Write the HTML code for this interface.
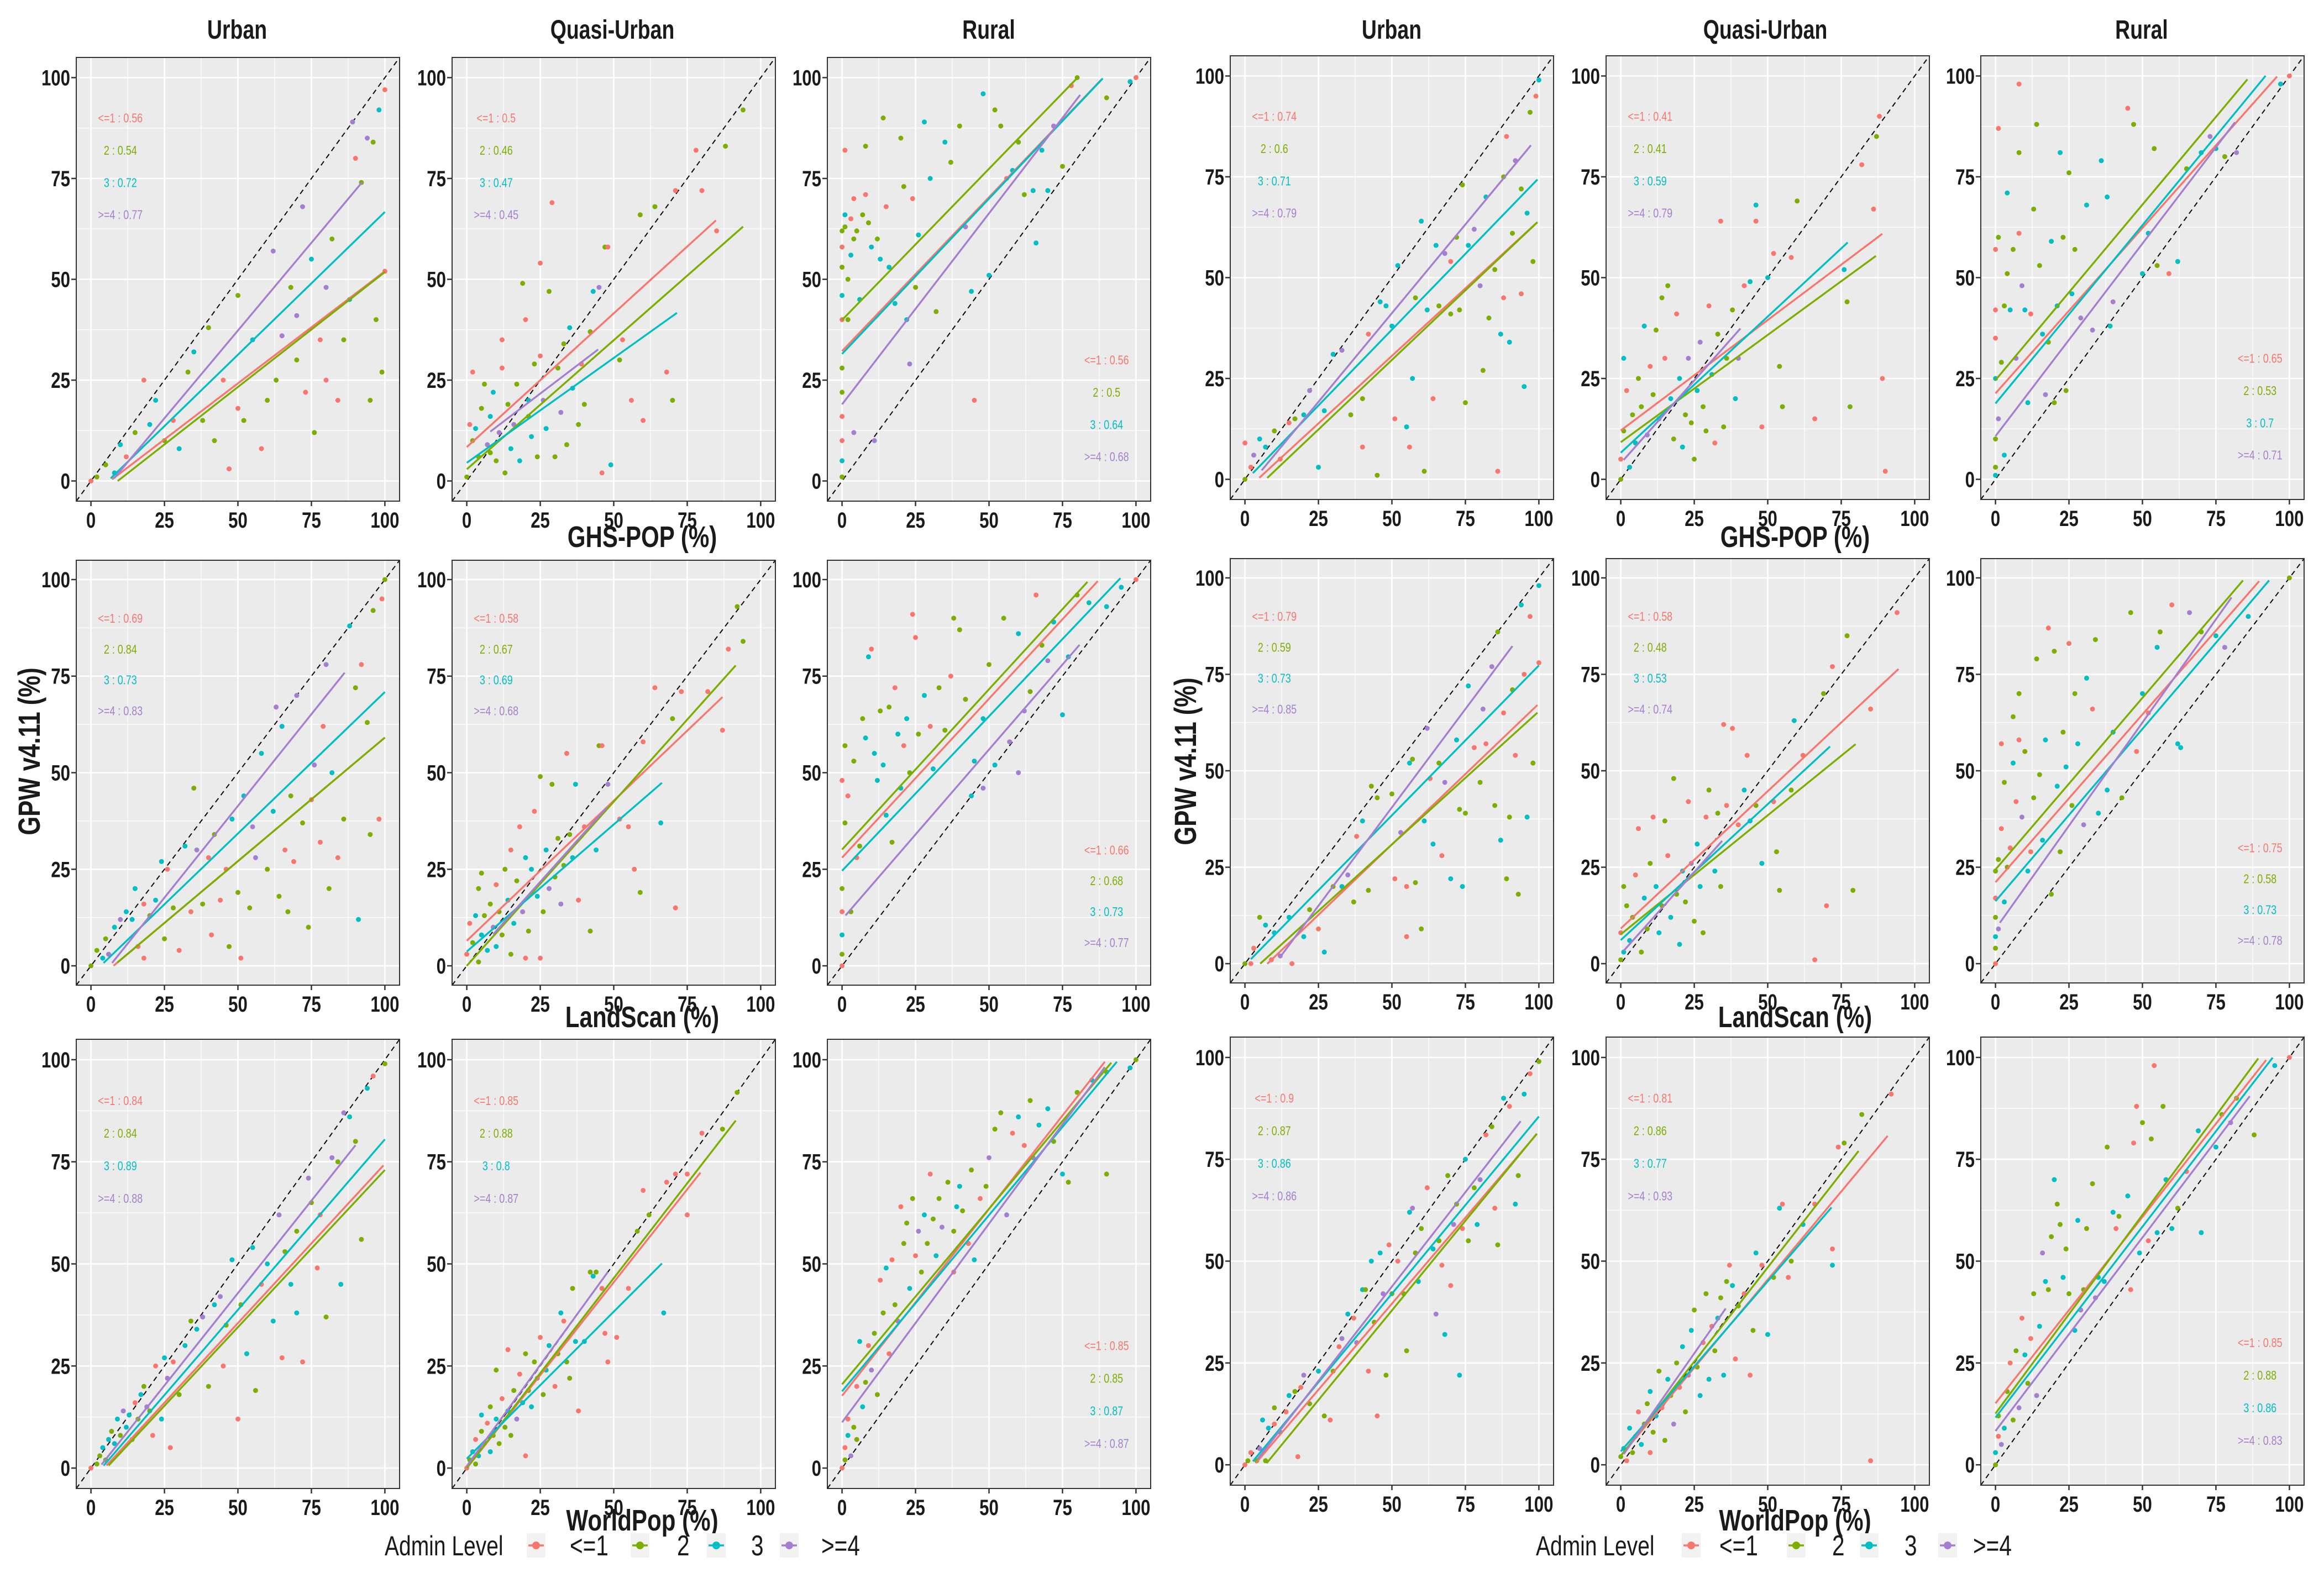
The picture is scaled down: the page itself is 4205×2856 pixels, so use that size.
<!DOCTYPE html>
<html><head><meta charset="utf-8">
<style>
html,body{margin:0;padding:0;background:#fff;}
svg{display:block;}
text{font-family:"Liberation Sans Narrow","Liberation Sans",sans-serif;}
</style></head>
<body>
<svg id="chart" width="4205" height="2856" viewBox="0 0 4205 2856" xmlns="http://www.w3.org/2000/svg">
<rect x="0" y="0" width="4205" height="2856" fill="#ffffff"/>
</svg>
<script>
const levelLabels = ["<=1","2","3",">=4"];
const levelColors = ["#F8766D","#7CAE00","#00BFC4","#A47FD0"];
const columnTitles = ["Urban","Quasi-Urban","Rural","Urban","Quasi-Urban","Rural"];
const rowTitles = ["GHS-POP (%)","LandScan (%)","WorldPop (%)"];
const tickValues = [0,25,50,75,100];
const tickLabels = ["0","25","50","75","100"];
const rValues = [
 [0.56,0.54,0.72,0.77],[0.5,0.46,0.47,0.45],[0.56,0.5,0.64,0.68],
 [0.69,0.84,0.73,0.83],[0.58,0.67,0.69,0.68],[0.66,0.68,0.73,0.77],
 [0.84,0.84,0.89,0.88],[0.85,0.88,0.8,0.87],[0.85,0.85,0.87,0.87],
 [0.74,0.6,0.71,0.79],[0.41,0.41,0.59,0.79],[0.65,0.53,0.7,0.71],
 [0.79,0.59,0.73,0.85],[0.58,0.48,0.53,0.74],[0.75,0.58,0.73,0.78],
 [0.9,0.87,0.86,0.86],[0.81,0.86,0.77,0.93],[0.85,0.88,0.86,0.83]
];
const lineIntercepts = [
 [-3.6,-5.2,-4.1,-6.2],[8.4,2.9,4.5,7.8],[32.2,39.9,31.5,19],
 [-4.9,-4.9,-2.4,-6.1],[6.5,0,3.7,0.5],[28,30.1,24.6,12],
 [-3.5,-4,-3,-2.4],[0,0,2.3,0.5],[17.7,20.5,18.8,11.2],
 [-2.9,-4.9,-0.5,-2.8],[12.1,9.2,6.6,4],[21.3,24.6,18.8,10.7],
 [-5.6,-3.6,-0.4,-10.5],[9.1,7.6,6.1,2.5],[21.1,24.4,16.2,9],
 [-2.7,-6.1,-1.5,-2.6],[2.2,2.2,3.3,1.6],[15.1,12.6,11.6,8.3]
];
const lineSlopes = [
 [0.556,0.57,0.708,0.87],[0.663,0.64,0.52,0.555],[0.763,0.75,0.77,0.947],
 [0.64,0.64,0.733,0.95],[0.725,0.85,0.658,0.85],[0.823,0.83,0.8,0.88],
 [0.78,0.77,0.835,0.905],[0.91,0.93,0.72,0.99],[0.915,0.86,0.863,0.973],
 [0.67,0.69,0.752,0.88],[0.548,0.532,0.675,0.82],[0.82,0.87,0.884,0.955],
 [0.73,0.69,0.777,1.02],[0.712,0.617,0.705,0.85],[0.87,0.89,0.893,1.07],
 [0.845,0.88,0.87,0.927],[0.865,0.925,0.835,1.03],[0.915,0.975,0.937,0.95]
];
const lineXmin = [
 [7.2,9.1,6.7,7.9],[0,0,0,8],[0,0,0,0],
 [7.7,9,4.3,7.2],[0,0,0,9],[0,0,0,1.2],
 [5.3,6,4.3,3.6],[0,0,0,0],[0,0,0,0],
 [4.9,7.6,2.7,5.7],[0,0,0,1],[0,0,0,0],
 [7.6,5.2,2,11.8],[0,0,0,1],[0,0,0,1.5],
 [3.7,7.4,2.7,4.4],[0,0,0,1],[0,0,0,0]
];
const lineXmax = [
 [100,100,100,92.3],[84.8,94,71.5,44.7],[88.2,79.6,88.7,81],
 [100,100,100,86.3],[87,91.5,66.4,47.6],[87,83.5,94.7,80.8],
 [99.5,100,100,90],[79.5,91.5,66.4,48],[89.4,91.6,93.5,89.4],
 [99.5,99.5,99.5,97.3],[89,86.8,77.2,40.7],[95.8,85.7,91.9,81.5],
 [99.5,99.5,100,91],[94.5,79.9,71.2,34.5],[89.7,84.2,93.1,80.3],
 [99.3,99.3,100,93.8],[90.8,80.9,71.7,35.7],[92.1,89.4,94.3,86.5]
];
const points = [
 [[0,0,0],[2,1,1],[5,4,1],[8,2,2],[10,9,2],[12,6,0],[15,12,1],[18,25,0],[20,14,2],[22,20,2],[25,10,1],[28,15,0],[30,8,2],[33,27,1],[35,32,2],[38,15,1],[40,38,1],[42,10,1],[45,25,0],[47,3,0],[50,46,1],[50,18,0],[52,15,1],[55,35,2],[58,8,0],[60,20,1],[62,57,3],[63,25,1],[65,36,3],[68,48,1],[70,30,1],[72,68,3],[73,22,0],[75,55,2],[76,12,1],[78,35,0],[80,25,0],[82,60,1],[84,20,0],[86,35,1],[88,45,2],[90,80,0],[92,74,1],[94,85,3],[95,20,1],[97,40,1],[98,92,2],[99,27,1],[100,97,0],[100,52,0],[80,48,3],[70,41,3],[96,84,1],[89,89,3]],
 [[0,1,1],[1,14,0],[2,10,1],[2,27,0],[3,13,2],[4,6,1],[5,18,1],[6,24,1],[7,9,3],[8,16,2],[9,22,2],[10,5,1],[11,12,3],[12,35,0],[12,28,0],[13,2,1],[14,19,1],[15,8,2],[16,14,3],[17,24,1],[18,5,2],[19,49,1],[20,40,0],[21,16,1],[22,11,2],[23,29,1],[24,6,1],[25,54,0],[25,31,0],[26,20,3],[27,13,2],[28,47,1],[29,69,0],[30,6,1],[31,28,1],[32,17,3],[33,34,1],[34,9,1],[35,38,2],[36,23,2],[38,14,1],[39,29,0],[40,19,1],[42,37,1],[43,47,2],[45,48,3],[46,2,0],[47,58,1],[48,58,0],[49,4,2],[52,30,1],[53,35,0],[56,20,0],[59,66,1],[60,15,0],[64,68,1],[68,27,0],[70,20,1],[71,72,0],[78,82,0],[80,72,0],[85,62,0],[88,83,1],[94,92,1],[21,20,2],[8,7,1]],
 [[0,1,1],[0,5,2],[0,10,0],[0,16,0],[0,22,1],[0,28,1],[0,40,0],[0,46,2],[0,53,1],[0,58,0],[0,62,1],[1,63,1],[1,66,2],[1,82,0],[2,50,1],[2,40,1],[3,56,2],[3,65,0],[4,60,1],[4,70,0],[4,12,3],[5,62,1],[6,45,2],[7,66,1],[8,83,1],[8,71,0],[9,64,1],[10,58,2],[11,10,3],[12,60,1],[13,55,2],[14,90,1],[15,68,0],[16,53,2],[18,44,2],[20,85,1],[21,73,1],[22,40,2],[23,29,3],[24,70,0],[25,48,1],[26,61,2],[28,89,2],[30,75,2],[32,42,1],[35,84,2],[37,79,1],[40,88,1],[42,63,3],[44,47,2],[45,20,0],[48,96,2],[50,51,2],[52,92,1],[54,88,1],[56,75,0],[58,77,2],[60,84,1],[62,71,1],[65,72,2],[66,59,2],[68,82,2],[70,72,2],[72,88,3],[75,78,1],[80,100,1],[90,95,1],[98,99,2],[100,100,0],[78,98,0]],
 [[0,0,1],[2,4,1],[4,2,2],[5,7,1],[6,3,3],[8,10,2],[10,12,3],[12,14,2],[14,12,2],[15,20,2],[16,5,0],[18,16,0],[18,2,0],[20,13,1],[22,17,2],[24,27,2],[25,7,1],[26,25,0],[28,15,1],[30,4,0],[32,31,2],[34,14,0],[35,46,1],[36,30,3],[38,16,1],[40,28,0],[41,8,0],[42,34,1],[44,17,0],[46,25,0],[47,5,1],[48,38,2],[50,19,1],[51,2,0],[52,44,2],[54,15,1],[55,36,3],[56,28,3],[58,55,2],[60,25,1],[62,40,2],[63,67,3],[64,18,1],[65,62,2],[66,30,0],[67,14,1],[68,44,1],[69,27,0],[70,70,3],[72,37,1],[74,10,1],[75,43,0],[76,52,3],[78,32,0],[79,62,0],[80,78,3],[81,20,1],[82,50,2],[84,28,0],[86,38,1],[88,88,2],[90,72,1],[91,12,2],[92,78,0],[94,63,1],[95,34,1],[96,92,1],[98,38,0],[100,100,1],[99,95,0]],
 [[0,3,0],[1,11,0],[2,6,1],[3,13,2],[4,1,1],[4,20,1],[5,8,2],[5,24,1],[6,13,1],[7,4,2],[8,16,1],[9,10,3],[10,5,2],[10,21,0],[11,14,1],[12,8,1],[13,25,1],[14,17,2],[15,3,1],[15,30,0],[16,11,2],[17,22,1],[18,36,0],[19,14,3],[20,2,0],[20,28,2],[21,9,1],[22,25,2],[23,40,0],[24,18,2],[25,49,1],[25,2,0],[26,14,1],[27,30,2],[28,20,3],[29,47,1],[30,23,1],[31,33,1],[32,16,3],[33,26,1],[34,55,0],[35,34,1],[36,28,2],[37,47,2],[38,17,0],[40,36,0],[42,9,1],[44,30,2],[45,57,1],[46,57,0],[48,47,3],[52,38,0],[55,36,0],[57,25,0],[59,19,1],[60,58,0],[64,72,0],[66,37,2],[70,64,1],[71,15,0],[73,71,0],[82,71,0],[87,61,0],[89,82,0],[92,93,1],[94,84,1]],
 [[0,0,0],[0,3,1],[0,8,2],[0,14,0],[0,20,1],[0,48,0],[1,37,1],[1,57,1],[2,44,0],[3,14,1],[4,53,1],[5,28,0],[6,31,1],[7,64,1],[8,59,2],[9,80,2],[10,82,0],[11,55,2],[12,48,2],[13,66,1],[14,52,2],[15,39,2],[16,67,1],[17,32,1],[18,72,0],[19,60,2],[20,46,2],[21,57,0],[22,64,2],[23,50,1],[24,91,0],[25,85,0],[26,60,1],[28,70,2],[30,62,0],[31,51,2],[33,72,1],[35,61,1],[37,75,0],[38,90,1],[40,87,1],[42,69,1],[44,44,2],[45,53,2],[48,64,2],[50,78,1],[52,52,2],[55,90,1],[57,58,3],[60,86,2],[62,66,3],[64,71,1],[66,96,0],[68,83,1],[70,79,3],[72,89,2],[75,65,2],[77,80,2],[80,96,1],[84,94,2],[90,93,2],[95,98,2],[100,100,0],[60,50,3],[48,46,3]],
 [[0,0,0],[2,1,1],[3,3,1],[4,5,2],[5,2,1],[6,7,2],[7,9,1],[8,6,2],[9,12,2],[10,8,1],[11,14,3],[12,10,2],[13,13,2],[14,7,1],[15,16,0],[16,12,1],[17,18,2],[18,20,1],[19,15,3],[20,14,1],[21,8,0],[22,25,0],[24,12,2],[25,27,2],[26,22,3],[27,5,0],[28,26,0],[30,18,1],[32,30,2],[34,36,1],[36,34,2],[38,37,3],[40,20,1],[42,40,2],[44,42,3],[45,25,0],[46,35,1],[48,51,2],[50,12,0],[51,40,1],[53,28,2],[55,54,2],[56,19,1],[58,45,0],[60,50,2],[62,36,2],[64,62,3],[65,27,0],[66,53,1],[68,45,2],[70,58,1],[72,26,0],[74,71,3],[75,65,1],[77,49,0],[78,62,0],[80,37,1],[82,76,3],[84,75,1],[86,87,3],[88,86,2],[90,80,1],[92,56,1],[94,93,2],[96,96,0],[100,99,1],[85,45,2],[70,38,2]],
 [[0,0,0],[1,2,1],[2,4,2],[3,1,1],[3,7,0],[4,3,2],[5,9,1],[5,13,2],[6,6,1],[7,11,0],[8,4,2],[8,15,1],[9,8,1],[10,12,2],[10,24,1],[11,6,1],[12,17,0],[13,10,1],[14,14,2],[14,29,0],[15,8,1],[16,19,1],[17,12,3],[18,23,0],[19,16,2],[20,3,0],[20,28,1],[21,19,1],[22,15,2],[23,26,1],[24,22,3],[25,32,0],[26,18,1],[27,24,2],[28,30,2],[30,20,0],[31,28,1],[32,38,2],[33,36,0],[34,26,1],[35,22,1],[36,44,1],[37,31,2],[38,14,0],[40,31,2],[42,48,1],[43,47,2],[44,48,1],[46,44,0],[47,33,0],[48,26,0],[51,32,0],[55,44,0],[58,58,1],[60,68,0],[62,62,1],[67,38,2],[68,70,0],[71,72,0],[75,72,0],[75,62,0],[80,82,0],[87,83,1],[92,92,1]],
 [[0,0,0],[1,2,1],[1,5,0],[2,8,2],[2,12,0],[3,3,3],[4,10,1],[5,20,0],[5,7,1],[6,31,2],[7,15,2],[8,21,1],[9,30,0],[10,24,3],[11,33,1],[12,18,1],[13,46,0],[14,38,1],[15,49,2],[16,28,0],[17,51,0],[18,40,1],[19,36,3],[20,64,0],[21,55,1],[22,60,1],[23,44,2],[24,66,1],[25,52,0],[26,58,3],[27,48,1],[28,62,2],[29,55,1],[30,72,0],[31,61,1],[32,52,2],[33,66,1],[34,59,3],[36,70,1],[38,48,0],[39,64,2],[40,69,2],[41,63,1],[43,55,0],[44,73,1],[45,51,2],[47,66,0],[49,69,1],[50,76,3],[52,83,1],[54,87,1],[56,62,3],[58,82,0],[60,86,2],[62,79,0],[64,90,1],[65,76,3],[67,84,2],[70,88,2],[72,80,1],[75,72,2],[77,70,1],[80,92,1],[85,95,2],[90,97,1],[98,98,2],[100,100,1],[90,72,1],[38,58,1]],
 [[0,0,1],[0,9,0],[2,3,0],[3,6,3],[5,10,2],[7,8,2],[10,12,1],[12,5,0],[15,14,0],[17,15,1],[20,16,2],[22,22,3],[25,3,2],[27,17,2],[30,31,2],[33,32,3],[36,16,1],[40,20,1],[40,8,0],[42,36,0],[45,1,1],[46,44,2],[48,43,2],[50,38,2],[51,15,0],[52,53,2],[55,13,2],[56,8,0],[57,25,2],[58,45,1],[60,64,2],[61,2,1],[62,42,2],[64,20,0],[65,58,2],[66,43,1],[68,56,3],[70,41,1],[72,60,1],[73,42,1],[74,73,1],[75,19,1],[76,58,2],[78,62,3],[80,48,3],[81,27,1],[82,70,2],[83,40,1],[85,52,1],[86,2,0],[87,36,2],[88,75,1],[89,85,0],[90,34,2],[91,61,1],[92,79,3],[94,72,1],[94,46,0],[95,23,2],[96,66,2],[97,91,1],[98,54,1],[99,95,0],[100,99,2],[88,45,0],[70,54,0]],
 [[0,0,1],[0,5,0],[1,30,2],[1,12,1],[2,22,0],[3,3,2],[4,16,1],[5,9,2],[6,25,1],[7,18,1],[8,38,2],[9,11,3],[10,28,0],[11,21,1],[12,37,1],[13,15,2],[14,45,1],[15,30,0],[16,48,1],[17,20,2],[18,10,1],[19,41,0],[20,25,2],[21,8,2],[22,16,1],[23,30,3],[24,14,1],[25,5,1],[26,22,2],[27,34,3],[28,18,1],[29,12,1],[30,43,0],[31,26,2],[32,9,0],[33,36,1],[34,64,0],[35,13,1],[36,30,1],[38,42,1],[39,20,2],[40,30,3],[42,48,0],[44,49,2],[46,68,2],[46,64,0],[48,13,0],[50,50,2],[52,56,0],[54,28,1],[55,18,1],[58,55,0],[60,69,1],[66,15,0],[76,52,2],[77,44,1],[78,18,1],[82,78,0],[86,67,0],[87,85,1],[88,90,0],[89,25,0],[90,2,0]],
 [[0,1,2],[0,3,1],[0,10,1],[0,25,2],[0,35,0],[0,42,0],[0,57,0],[1,60,1],[1,87,0],[1,15,3],[2,29,1],[3,6,2],[3,43,1],[4,71,2],[4,51,1],[5,42,2],[6,57,1],[7,30,3],[8,81,1],[8,61,0],[9,48,3],[10,42,2],[11,19,2],[12,41,0],[13,67,1],[14,88,1],[15,53,1],[16,36,2],[17,21,3],[18,34,1],[19,59,2],[20,19,1],[21,43,2],[22,81,2],[23,60,1],[24,22,1],[25,76,1],[26,46,2],[27,57,1],[29,40,3],[31,68,2],[33,37,3],[36,79,2],[38,70,2],[39,38,2],[40,44,3],[45,92,0],[47,88,1],[50,51,2],[52,61,2],[54,82,1],[55,53,1],[59,51,0],[62,54,2],[65,77,1],[70,81,2],[73,85,3],[75,82,2],[78,80,1],[82,81,3],[97,98,2],[100,100,0],[8,98,0]],
 [[0,0,1],[2,0,0],[3,4,0],[5,12,1],[7,10,2],[9,1,0],[10,8,2],[12,2,3],[15,12,2],[16,0,0],[20,7,2],[22,14,1],[25,9,0],[27,3,2],[30,20,1],[33,20,2],[35,23,3],[37,16,1],[38,33,0],[40,37,2],[42,19,1],[43,46,1],[45,43,1],[50,44,1],[51,22,0],[53,34,3],[55,7,0],[55,20,0],[56,52,2],[57,53,1],[58,21,1],[60,9,1],[61,37,2],[62,61,3],[63,48,0],[64,31,2],[66,52,1],[67,28,0],[68,47,3],[70,22,2],[72,58,2],[73,40,1],[74,20,2],[75,39,1],[76,72,2],[78,56,0],[80,47,1],[81,66,3],[82,57,0],[84,77,3],[85,41,1],[86,86,1],[87,32,2],[88,65,0],[89,22,1],[90,38,1],[91,71,1],[92,54,0],[93,18,1],[94,93,2],[95,75,0],[96,38,2],[97,90,0],[98,52,1],[100,98,2],[100,78,0]],
 [[0,1,1],[0,8,0],[1,20,1],[1,3,2],[2,15,1],[3,6,2],[4,12,1],[5,23,0],[6,35,0],[7,3,1],[8,17,2],[9,9,1],[10,26,1],[11,38,0],[12,20,2],[13,8,2],[14,15,1],[15,37,1],[16,28,0],[17,12,2],[18,48,1],[19,18,1],[20,5,2],[21,24,2],[22,16,1],[23,42,0],[24,26,3],[25,11,1],[26,31,2],[27,20,2],[28,8,1],[29,38,0],[30,45,1],[32,24,2],[33,39,1],[34,20,1],[35,62,0],[36,41,0],[38,61,0],[40,36,0],[42,45,2],[43,54,0],[44,37,2],[46,41,1],[48,26,2],[52,42,0],[53,29,1],[54,19,1],[58,45,1],[59,63,2],[62,54,0],[66,1,0],[69,70,1],[70,15,0],[72,77,0],[77,85,1],[79,19,1],[85,66,0],[94,91,0]],
 [[0,0,0],[0,4,1],[0,7,2],[0,12,1],[0,17,0],[0,24,1],[1,27,1],[1,9,3],[2,35,0],[2,57,0],[3,16,2],[3,47,1],[4,25,1],[5,30,0],[6,64,1],[6,52,2],[7,42,0],[8,70,1],[8,58,0],[9,38,3],[10,55,1],[11,24,2],[12,29,0],[13,43,1],[14,79,1],[15,49,1],[16,32,2],[17,58,2],[18,87,0],[19,18,1],[20,81,1],[21,46,2],[22,29,1],[23,60,1],[24,51,2],[25,83,0],[26,41,1],[27,70,1],[28,57,2],[30,36,3],[31,74,2],[33,66,0],[34,84,1],[35,39,2],[38,45,2],[40,60,2],[43,43,1],[46,91,1],[48,55,0],[50,70,2],[52,65,0],[55,82,2],[56,86,1],[60,93,0],[62,57,2],[63,56,2],[66,91,3],[70,86,1],[75,85,2],[78,82,3],[86,90,2],[100,100,1]],
 [[0,0,0],[1,1,1],[2,3,0],[4,1,1],[5,4,3],[6,11,2],[7,1,1],[8,9,2],[10,10,0],[10,14,1],[12,8,2],[14,13,0],[15,17,2],[17,18,1],[18,2,0],[19,19,0],[20,22,3],[22,15,1],[25,23,2],[27,12,1],[29,11,0],[30,23,1],[32,29,0],[33,31,3],[35,37,2],[37,36,0],[38,30,3],[40,43,2],[41,43,1],[42,23,0],[43,50,2],[44,35,1],[45,12,0],[46,52,2],[47,42,3],[48,22,1],[49,54,0],[50,42,1],[52,50,0],[54,42,1],[55,28,1],[56,62,2],[57,63,3],[58,52,1],[59,45,2],[60,58,1],[62,68,0],[64,53,2],[65,37,3],[66,55,1],[67,49,0],[68,32,2],[69,71,1],[70,44,0],[71,59,3],[72,64,1],[73,22,2],[74,58,0],[75,75,2],[76,55,1],[78,68,1],[79,59,2],[80,70,3],[82,81,0],[84,83,1],[85,63,0],[86,54,1],[88,90,2],[90,88,0],[92,64,2],[93,71,1],[95,91,2],[97,96,0],[100,99,1]],
 [[0,2,1],[1,4,2],[2,1,0],[3,9,2],[4,3,1],[5,7,1],[6,13,0],[7,5,2],[8,10,1],[9,15,1],[10,3,0],[10,18,2],[11,8,1],[12,12,2],[13,23,1],[14,14,0],[15,6,1],[16,21,2],[17,17,1],[18,10,3],[19,25,1],[20,19,0],[21,29,2],[22,13,1],[23,22,3],[24,33,2],[25,38,1],[26,24,1],[27,17,2],[28,30,0],[29,42,1],[30,21,2],[31,34,0],[32,28,1],[33,36,2],[34,41,1],[35,22,2],[36,45,1],[37,49,0],[38,44,2],[39,26,0],[40,39,1],[42,42,0],[44,22,0],[45,33,1],[46,52,2],[48,49,0],[50,32,2],[52,46,1],[54,63,2],[55,64,0],[57,46,0],[58,50,1],[62,59,2],[66,64,0],[72,49,2],[72,53,0],[74,78,0],[76,79,1],[82,86,1],[85,1,0],[92,91,0]],
 [[0,0,1],[0,3,2],[1,7,0],[1,12,1],[2,5,3],[3,9,2],[4,18,1],[5,25,0],[6,11,1],[7,28,1],[8,14,3],[9,36,0],[10,27,2],[11,20,1],[12,31,0],[13,42,1],[14,17,3],[15,34,2],[16,52,3],[17,45,2],[18,43,1],[19,56,1],[20,70,2],[21,64,1],[22,59,1],[23,46,2],[24,53,1],[25,42,1],[27,33,2],[28,60,2],[29,38,3],[30,43,1],[31,58,1],[33,69,1],[34,41,3],[35,46,2],[37,45,2],[38,78,1],[40,62,2],[41,58,0],[42,61,1],[45,66,2],[46,43,0],[47,79,0],[48,88,0],[49,52,2],[50,84,1],[52,55,0],[53,80,1],[55,57,2],[57,88,1],[58,70,2],[60,58,2],[62,63,1],[65,72,0],[69,82,2],[70,57,2],[75,78,2],[77,86,1],[80,84,3],[82,90,1],[88,81,1],[95,98,2],[100,100,0],[54,98,0]]
];

const NS = "http://www.w3.org/2000/svg";
const svg = document.getElementById("chart");
const colLeft = [138,818,1497,2226,2906,3584];
const panelW = 585;
const rowTopL = [104,1014,1881], rowBotL = [907,1783,2694];
const rowTopR = [101,1011,1877], rowBotR = [904,1779,2688];
const DMIN = -5, DMAX = 105;
const NARROW = 0.78;

function mk(tag, attrs, parent){
  const e = document.createElementNS(NS, tag);
  for (const k in attrs) e.setAttribute(k, attrs[k]);
  (parent||svg).appendChild(e);
  return e;
}
// condensed text: positioned via transform so glyphs are horizontally compressed
function txt(x, y, attrs, parent, rot){
  const a = Object.assign({}, attrs);
  a.x = 0; a.y = 0;
  a.transform = "translate(" + x + " " + y + ")" + (rot ? " rotate(" + rot + ")" : "") + " scale(" + NARROW + " 1)";
  return mk("text", a, parent);
}

for (let p = 0; p < 18; p++) {
  const group = p < 9 ? 0 : 1;
  const row = Math.floor((p % 9) / 3);
  const col = p % 3;
  const cIdx = group * 3 + col;
  const L = colLeft[cIdx], R = L + panelW;
  const T = group ? rowTopR[row] : rowTopL[row];
  const B = group ? rowBotR[row] : rowBotL[row];
  const sx = v => L + (v - DMIN) / (DMAX - DMIN) * (R - L);
  const sy = v => B - (v - DMIN) / (DMAX - DMIN) * (B - T);
  const g = mk("g", {});
  
  
  const bg = mk("rect", {x:L, y:T, width:R-L, height:B-T, fill:"#EBEBEB"}, g);
  
  
  for (let v = 12.5; v < 100; v += 25) {
    mk("line", {x1:sx(v), x2:sx(v), y1:T, y2:B, stroke:"#fff", "stroke-width":1.2}, g);
    mk("line", {x1:L, x2:R, y1:sy(v), y2:sy(v), stroke:"#fff", "stroke-width":1.2}, g);
  }
  tickValues.forEach((v, i) => {
    mk("line", {x1:sx(v), x2:sx(v), y1:T, y2:B, stroke:"#fff", "stroke-width":2.6}, g);
    mk("line", {x1:L, x2:R, y1:sy(v), y2:sy(v), stroke:"#fff", "stroke-width":2.6}, g);
    mk("line", {x1:L-9, x2:L, y1:sy(v), y2:sy(v), stroke:"#333", "stroke-width":2.5}, g);
    mk("line", {x1:sx(v), x2:sx(v), y1:B, y2:B+9, stroke:"#333", "stroke-width":2.5}, g);
    const yt = txt(L-11, sy(v)+14, {"text-anchor":"end", "font-size":40, "font-weight":"bold", fill:"#1a1a1a"}, g);
    yt.textContent = tickLabels[i];
    
    
    const xt = txt(sx(v), B+48, {"text-anchor":"middle", "font-size":40, "font-weight":"bold", fill:"#1a1a1a"}, g);
    xt.textContent = tickLabels[i];
    
    
  });
  const diag = mk("line", {x1:sx(DMIN), y1:sy(DMIN), x2:sx(DMAX), y2:sy(DMAX), stroke:"#000", "stroke-width":2, "stroke-dasharray":"9,7"}, g);
  
  
  points[p].forEach(pt => {
    const c = mk("circle", {cx:sx(pt[0]), cy:sy(pt[1]), r:4.5, fill:levelColors[pt[2]]}, g);
    
    
  });
  for (let k = 0; k < 4; k++) {
    const x1 = lineXmin[p][k], x2 = lineXmax[p][k];
    const y1 = lineIntercepts[p][k] + lineSlopes[p][k]*x1;
    const y2 = lineIntercepts[p][k] + lineSlopes[p][k]*x2;
    const ln = mk("line", {x1:sx(x1), y1:sy(y1), x2:sx(x2), y2:sy(y2), stroke:levelColors[k], "stroke-width":3.4}, g);
    
    
  }
  const rural = col === 2;
  const ax = rural ? 90 : 10;
  const ay = rural ? [30,22,14,6] : [90,82,74,66];
  for (let k = 0; k < 4; k++) {
    const t = txt(sx(ax), sy(ay[k])+8, {"text-anchor":"middle", "font-size":23, fill:levelColors[k]}, g);
    t.textContent = levelLabels[k] + " : " + rValues[p][k];
    
    
  }
  const br = mk("rect", {x:L, y:T, width:R-L, height:B-T, fill:"none", stroke:"#333", "stroke-width":2}, g);
  
  
}

const titleX = [429,1108,1789,2518,3194,3875];
columnTitles.forEach((s, i) => {
  const t = txt(titleX[i], 70, {"text-anchor":"middle", "font-size":48, "font-weight":"bold", fill:"#1a1a1a"});
  t.textContent = s;
  
  
});
const xTitleY = [990, 1859, 2770];
rowTitles.forEach((s, r) => {
  [1162, 3248].forEach(cx => {
    const t = txt(cx, xTitleY[r], {"text-anchor":"middle", "font-size":54, "font-weight":"bold", fill:"#1a1a1a"});
    t.textContent = s;
    
    
  });
});
[[72,1360],[2164,1378]].forEach(pos => {
  const t = txt(pos[0], pos[1], {"text-anchor":"middle", "font-size":56, "font-weight":"bold", fill:"#1a1a1a"}, null, -90);
  t.textContent = "GPW v4.11 (%)";
  
  
});
const legends = [
  {title:696, keys:[970,1158,1296,1428], labels:[1031,1225,1359,1486]},
  {title:2779, keys:[3060,3250,3382,3524], labels:[3111,3315,3446,3570]}
];
legends.forEach(lg => {
  const lgG = mk("g", {});
  
  
  const t = txt(lg.title, 2815, {"font-size":50, fill:"#1a1a1a"}, lgG);
  t.textContent = "Admin Level";
  
  
  for (let k = 0; k < 4; k++) {
    const e = mk("g", {}, lgG);
    
    
    const kx = lg.keys[k];
    mk("rect", {x:kx-17, y:2775, width:34, height:44, fill:"#F2F2F2"}, e);
    mk("line", {x1:kx-14, x2:kx+14, y1:2797, y2:2797, stroke:levelColors[k], "stroke-width":3.5}, e);
    mk("circle", {cx:kx, cy:2797, r:7, fill:levelColors[k]}, e);
    const lt = txt(lg.labels[k], 2815, {"font-size":52, fill:"#1a1a1a"}, e);
    lt.textContent = levelLabels[k];
  }
});
</script>
</body></html>
